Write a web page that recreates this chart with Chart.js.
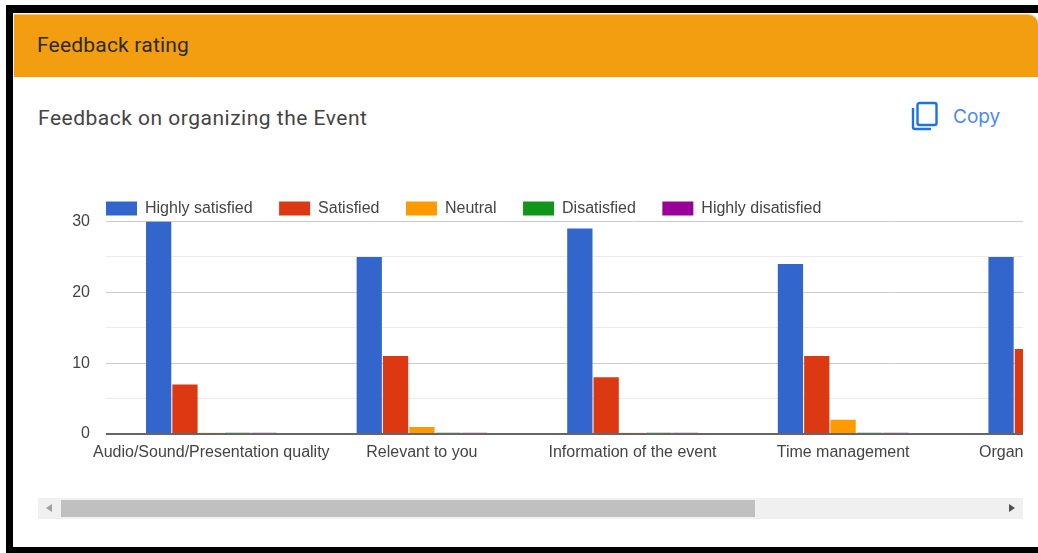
<!DOCTYPE html>
<html>
<head>
<meta charset="utf-8">
<script src="https://cdn.jsdelivr.net/npm/chart.js@4"></script>
<style>
  html, body { margin: 0; padding: 0; background: #fff; }
  #page { position: relative; width: 1038px; height: 553px; overflow: hidden; background: #fff; font-family: Roboto, sans-serif; }
  #frame-top { position: absolute; left: 6px; top: 5px; width: 1032px; height: 8px; background: #000; }
  #frame-left { position: absolute; left: 6px; top: 5px; width: 7px; height: 548px; background: #000; }
  #frame-bottom { position: absolute; left: 6px; top: 547px; width: 1032px; height: 6px; background: #000; }
  #header { position: absolute; left: 14px; top: 14px; width: 1024px; height: 63px; background: #f39e11; border-top: 1px solid #f9c77c; box-sizing: border-box; border-top-right-radius: 10px; color: #2b2b2b; font-size: 21px; letter-spacing: 0.2px; line-height: 61px; text-indent: 23px; }
  #subtitle { position: absolute; left: 38px; top: 105px; font-size: 21px; line-height: 26px; color: #444; letter-spacing: 0.5px; }
  #copy-icon { position: absolute; left: 911px; top: 101px; }
  #copy-text { position: absolute; left: 953px; top: 105px; font-family: Inter, sans-serif; font-size: 19px; line-height: 24px; color: #4a8af0; }
  #chart-box { position: absolute; left: 38px; top: 174px; width: 985px; height: 310px; overflow: hidden; }
  #track { position: absolute; left: 38px; top: 498px; width: 985px; height: 21px; background: #f0f0f0; }
  #thumb { position: absolute; left: 23px; top: 2px; width: 694px; height: 17px; background: #c0c0c0; }
  #arrow-left { position: absolute; left: 8px; top: 6px; width: 0; height: 0; border-top: 4.5px solid transparent; border-bottom: 4.5px solid transparent; border-right: 6px solid #a0a0a0; }
  #arrow-right { position: absolute; left: 971px; top: 6px; width: 0; height: 0; border-top: 4.5px solid transparent; border-bottom: 4.5px solid transparent; border-left: 6px solid #505050; }
</style>
</head>
<body>
<div id="page">
  <div id="frame-top"></div>
  <div id="frame-left"></div>
  <div id="frame-bottom"></div>
  <div id="header">Feedback rating</div>
  <div id="subtitle">Feedback on organizing the Event</div>
  <svg id="copy-icon" width="28" height="30" viewBox="0 0 28 30" fill="none" stroke="#1a73e8" stroke-width="2.4">
    <rect x="6.5" y="2" width="19" height="22" rx="2"></rect>
    <path d="M2 7 V26 a2 2 0 0 0 2 2 H20"></path>
  </svg>
  <div id="copy-text">Copy</div>
  <div id="chart-box"><canvas id="chart" width="1121" height="310"></canvas></div>
  <div id="track">
    <div id="arrow-left"></div>
    <div id="thumb"></div>
    <div id="arrow-right"></div>
  </div>
</div>
<script>
// values; the last group is cut off at the edge
const categories = ['Audio/Sound/Presentation quality', 'Relevant to you', 'Information of the event', 'Time management', 'Organizing the Event'];
const highlySatisfied = [30, 25, 29, 24, 25];
const satisfied = [7, 11, 8, 11, 12];
const neutral = [0, 1, 0, 2, null];
const disatisfied = [0, 0, 0, 0, null];
const highlyDisatisfied = [0, 0, 0, 0, null];
const yTicks = [0, 10, 20, 30];
const seriesColors = ['#3366cc', '#dc3912', '#ff9900', '#109618', '#990099'];

// zero values only leave a faint line on the axis
const barColor = (color, faint) => ctx => ctx.raw === 0 ? faint : color;

// the legend sits right on top of the plot, so give back its spare height
const tightLegend = {
    id: 'tightLegend',
    beforeInit(chart) {
        const fit = chart.legend.fit;
        chart.legend.fit = function () {
            fit.call(this);
            this.height = 47.5;
        };
    },
    afterLayout(chart) {
        chart.legend.left = 41.5;
    }
};

new Chart(document.getElementById('chart').getContext('2d'), {
    type: 'bar',
    plugins: [tightLegend],
    data: {
        labels: categories,
        datasets: [
            { label: 'Highly satisfied', data: highlySatisfied, backgroundColor: seriesColors[0] },
            { label: 'Satisfied', data: satisfied, backgroundColor: seriesColors[1] },
            { label: 'Neutral', data: neutral, backgroundColor: barColor(seriesColors[2], 'rgba(255,153,0,0.15)') },
            { label: 'Disatisfied', data: disatisfied, backgroundColor: barColor(seriesColors[3], 'rgba(16,150,24,0.25)') },
            { label: 'Highly disatisfied', data: highlyDisatisfied, backgroundColor: barColor(seriesColors[4], 'rgba(153,0,153,0.2)') }
        ]
    },
    options: {
        responsive: false,
        animation: false,
        minBarLength: 2,
        categoryPercentage: 0.625,
        barPercentage: 0.96,
        layout: { padding: { left: 32 } },
        plugins: {
            tooltip: { enabled: false },
            legend: {
                position: 'top',
                align: 'start',
                labels: {
                    boxWidth: 31,
                    boxHeight: 14,
                    padding: 26.5,
                    color: '#444',
                    font: { family: 'Liberation Sans', size: 16 },
                    generateLabels(chart) {
                        const items = Chart.defaults.plugins.legend.labels.generateLabels(chart);
                        items.forEach((item, i) => {
                            item.fillStyle = seriesColors[i];
                            item.strokeStyle = seriesColors[i];
                        });
                        return items;
                    }
                }
            }
        },
        scales: {
            x: {
                grid: { display: false },
                border: { display: false },
                afterFit(axis) { axis.height = 50; },
                ticks: {
                    autoSkip: false,
                    maxRotation: 0,
                    padding: 1,
                    color: '#444',
                    font: { family: 'Liberation Sans', size: 16 }
                }
            },
            y: {
                min: 0,
                max: 30,
                afterFit(axis) { axis.width = 36; },
                border: { display: false },
                grid: {
                    drawTicks: false,
                    color: ctx => ctx.tick.value === 0 ? '#666' : (yTicks.includes(ctx.tick.value) ? '#ccc' : '#ebebeb'),
                    lineWidth: ctx => ctx.tick.value === 0 ? 2 : 1
                },
                ticks: {
                    stepSize: 5,
                    padding: 16,
                    color: '#444',
                    font: { family: 'Liberation Sans', size: 16 },
                    callback: v => yTicks.includes(v) ? v : ''
                }
            }
        }
    }
});
</script>
</body>
</html>
